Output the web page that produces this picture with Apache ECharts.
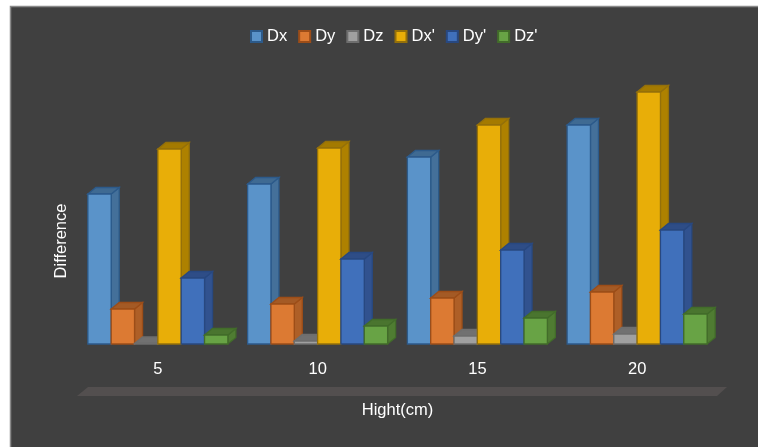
<!DOCTYPE html>
<html><head><meta charset="utf-8">
<style>html,body{margin:0;padding:0;background:#fff;width:758px;height:447px;overflow:hidden}#c{position:absolute;left:0;top:0;width:758px;height:447px}</style>
<script src="https://cdn.jsdelivr.net/npm/echarts@6/dist/echarts.min.js"></script>
</head><body><div id="c"></div>
<script>
const categories = ['5', '10', '15', '20'];
const Dx  = [150, 160, 187, 219];
const Dy  = [35, 40, 46, 52];
const Dz  = [0.5, 3, 8, 10];
const DxP = [195, 196, 219, 252];
const DyP = [66, 85, 94, 114];
const DzP = [9, 18, 26, 30];
const names = ['Dx', 'Dy', 'Dz', "Dx'", "Dy'", "Dz'"];
const values = [Dx, Dy, Dz, DxP, DyP, DzP];
const front = ['#5a93c9', '#dc7a33', '#a0a0a0', '#e8ae08', '#4070bb', '#68a345'];
const stroke = ['#2c5a8a', '#9c4d18', '#6e6e6e', '#94700a', '#284880', '#426c2a'];
const side = ['#44709a', '#ae5f27', '#777777', '#ae8100', '#31528f', '#4f7c32'];
const top_ = ['#3f6a92', '#a45a25', '#717171', '#a47a00', '#2e4d87', '#4a752f'];

const chart = echarts.init(document.getElementById('c'), null, {renderer: 'canvas'});
const groupW = 140, depthX = 8, depthY = 6.5;
const barW = groupW / names.length;

function render(si) {
  return function (params, api) {
    const c = api.coord([api.value(0), api.value(1)]);
    const b = api.coord([api.value(0), 0]);
    const x = c[0] - groupW / 2 + si * barW;
    const y = c[1], w = barW, y0 = b[1];
    return {
      type: 'group',
      children: [
        {type: 'polygon', shape: {points: [[x + w, y], [x + w + depthX, y - depthY], [x + w + depthX, y0 - depthY], [x + w, y0]]},
         style: {fill: side[si], stroke: stroke[si], lineWidth: 1.3}},
        {type: 'polygon', shape: {points: [[x, y], [x + depthX, y - depthY], [x + w + depthX, y - depthY], [x + w, y]]},
         style: {fill: top_[si], stroke: stroke[si], lineWidth: 1.3}},
        {type: 'rect', shape: {x: x, y: y, width: w, height: y0 - y},
         style: {fill: front[si], stroke: stroke[si], lineWidth: 1.3}}
      ]
    };
  };
}

chart.setOption({
  animation: false,
  backgroundColor: '#fff',
  textStyle: {fontFamily: '"Liberation Sans", Arial, sans-serif'},
  graphic: [
    {type: 'rect', z: -10, shape: {x: 10.5, y: 6.5, width: 750, height: 460}, style: {fill: '#404040', stroke: '#8a8a8a', lineWidth: 1.5}},
    {type: 'polygon', z: -9, shape: {points: [[88, 387], [727, 387], [717, 396], [77, 396]]}, style: {fill: '#534f4f'}}
  ],
  legend: {
    left: 245, top: 23, itemWidth: 11, itemHeight: 11, itemGap: 11,
    icon: 'rect',
    data: names,
    textStyle: {color: '#fff', fontSize: 16.5}
  },
  grid: {left: 78, width: 639, top: 44, height: 300, outerBoundsMode: 'none', containLabel: false},
  xAxis: {
    type: 'category', data: categories,
    name: 'Hight(cm)', nameLocation: 'middle', nameGap: 58,
    nameTextStyle: {color: '#fff', fontSize: 16.5},
    axisLine: {show: false}, axisTick: {show: false},
    axisLabel: {color: '#fff', fontSize: 16.5, margin: 17}
  },
  yAxis: {
    type: 'value', min: 0, max: 300,
    name: 'Difference', nameLocation: 'middle', nameGap: 8,
    nameTextStyle: {color: '#fff', fontSize: 16.5, padding: [0, 94, 0, 0]},
    axisLabel: {show: false}, axisLine: {show: false}, axisTick: {show: false}, splitLine: {show: false}
  },
  series: names.map((n, si) => ({
    name: n, type: 'custom', coordinateSystem: 'cartesian2d', clip: false,
    itemStyle: {color: front[si], borderColor: stroke[si], borderWidth: 1},
    encode: {x: 0, y: 1},
    z: 2 + si,
    data: categories.map((c, i) => [i, values[si][i]]),
    renderItem: render(si)
  }))
});
</script></body></html>
